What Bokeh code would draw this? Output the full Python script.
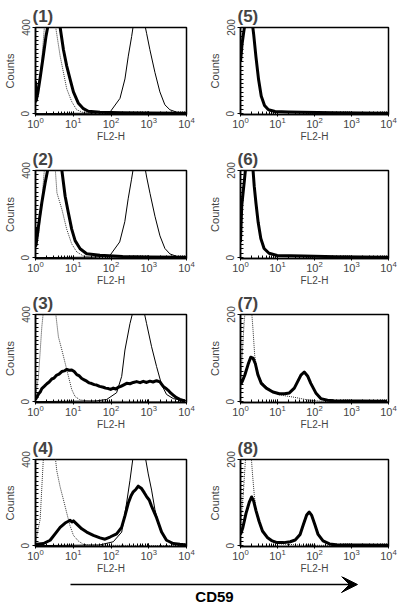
from bokeh.plotting import figure
from bokeh.layouts import column, row
from bokeh.models import Range1d, FixedTicker, Arrow, VeeHead
from bokeh.core.properties import value
from bokeh.embed import file_html
from bokeh.resources import INLINE

FONT = "Liberation Sans"

# ---------------- data (FL2-H intensity, counts) ----------------
X_LABEL = "FL2-H"
Y_LABEL = "Counts"
Y_TICKS_400 = [0, 400]
Y_TICKS_200 = [0, 200]
titles = ["(1)", "(2)", "(3)", "(4)", "(5)", "(6)", "(7)", "(8)"]
x_label_bottom = "CD59"

# panel 1
p1_iso_x = [1, 1.2, 1.47, 1.75, 2.4, 3.3, 4.5, 6.7, 9.1, 12.3, 18.6, 30, 100, 1000, 10000]
p1_iso_y = [40, 100, 250, 420, 470, 420, 267, 116, 56, 18, 5, 2, 1, 0, 0]
p1_pos_x = [1, 30, 94, 173, 234, 287, 352, 390, 500, 700, 793, 877, 1072, 1455, 1972, 2673, 3630, 5445, 10000]
p1_pos_y = [0, 2, 7, 71, 161, 267, 358, 410, 470, 460, 410, 373, 297, 192, 101, 41, 18, 7, 1]
p1_cd_x = [1, 1.04, 1.15, 1.35, 1.6, 1.9, 2.2, 3.5, 4.5, 5.5, 6.7, 8.2, 10.1, 13.7, 18.6, 25, 51, 200, 1000, 10000]
p1_cd_y = [150, 60, 95, 175, 265, 360, 420, 430, 400, 297, 222, 161, 101, 48, 23, 11, 6, 4, 3, 2]

# panel 2
p2_iso_x = [1, 1.25, 1.5, 1.75, 2.4, 3.3, 3.7, 5.0, 6.7, 9.1, 12.4, 18.5, 30, 10000]
p2_iso_y = [30, 120, 280, 420, 470, 420, 297, 222, 131, 63, 26, 8, 2, 0]
p2_pos_x = [1, 30, 92, 170, 232, 285, 350, 390, 500, 700, 800, 880, 1080, 1460, 1980, 2680, 3640, 5450, 10000]
p2_pos_y = [0, 2, 8, 72, 165, 270, 360, 410, 470, 460, 410, 370, 295, 190, 100, 42, 17, 6, 1]
p2_cd_x = [1, 1.03, 1.2, 1.47, 1.8, 2.2, 3.5, 5.0, 6.1, 7.4, 9.1, 11.2, 15.2, 22.7, 51, 200, 1000, 10000]
p2_cd_y = [140, 56, 146, 252, 343, 420, 430, 400, 282, 207, 131, 78, 41, 18, 11, 5, 3, 2]

# panel 3
p3_iso_x = [1, 1.2, 1.47, 1.63, 2.4, 3.3, 4.05, 5.0, 6.1, 7.45, 9.1, 11.2, 15.2, 27.8, 10000]
p3_iso_y = [20, 116, 343, 420, 470, 430, 297, 237, 177, 116, 56, 23, 8, 2, 0]
p3_pos_x = [1, 40, 77, 141, 192, 234, 318, 390, 500, 716, 877, 1189, 1611, 2185, 2960, 4460, 6640, 10000]
p3_pos_y = [0, 3, 10, 41, 116, 237, 358, 420, 470, 430, 358, 252, 161, 78, 33, 14, 8, 5]
p3_cd_x = [1, 1.1, 1.2, 1.33, 1.47, 1.7, 2.0, 2.3, 2.7, 3.1, 3.66, 4.2, 4.97, 5.8, 6.73, 7.8, 9.13, 10.6,
           12.4, 14.5, 16.8, 19.5, 22.7, 26.5, 30.8, 36, 41.8, 50, 62.7, 72, 85, 98, 115, 134, 156, 182,
           212, 260, 318, 390, 477, 590, 716, 880, 1072, 1300, 1611, 1972, 2415, 2800, 3275, 3800, 4446,
           5400, 6668, 9040]
p3_cd_y = [10, 22, 35, 44, 60, 70, 82, 90, 104, 108, 122, 126, 138, 141, 148, 144, 145, 138,
           124, 118, 106, 100, 94, 86, 83, 78, 76, 70, 66, 62, 60, 56, 62, 58, 66, 70,
           76, 84, 82, 88, 92, 87, 93, 88, 94, 90, 96, 91, 70, 62, 52, 40, 30,
           18, 10, 3]

# panel 4
p4_iso_x = [1, 1.33, 1.63, 2.4, 3.3, 3.66, 4.49, 5.5, 6.7, 8.2, 10.1, 13.7, 18.6, 30, 10000]
p4_iso_y = [15, 123, 420, 470, 420, 348, 273, 213, 153, 93, 48, 21, 6, 2, 0]
p4_pos_x = [1, 50, 115, 192, 259, 318, 390, 550, 793, 970, 1189, 1455, 1972, 2673, 4000, 10000]
p4_pos_y = [0, 3, 18, 63, 198, 303, 420, 470, 420, 333, 258, 168, 78, 33, 10, 3]
p4_cd_x = [1, 1.08, 1.63, 2.44, 3.31, 4.49, 6.08, 7.2, 8.25, 9.2, 10.1, 12.4, 16.8, 22.7, 34.1, 51.2, 69.4,
           94.1, 141, 191, 234, 287, 340, 389, 460, 527, 646, 760, 877, 1030, 1189, 1611, 2187, 2954,
           4446, 6668, 10000]
p4_cd_y = [5, 6, 10, 25, 55, 85, 105, 112, 118, 110, 115, 100, 78, 63, 48, 36, 30,
           40, 55, 85, 138, 198, 232, 250, 262, 276, 265, 246, 228, 212, 183, 130, 63, 25,
           10, 6, 3]

# panel 5
p5_cd_x = [1, 1.1, 1.23, 1.36, 2.05, 2.27, 2.62, 3.08, 3.63, 4.46, 5.7, 8.6, 19.5, 44, 340, 10000]
p5_cd_y = [120, 161, 191, 215, 215, 184, 131, 79, 41, 19, 9, 5, 4, 3, 2, 1]

# panel 6
p6_cd_x = [1, 1.08, 1.28, 1.41, 2.12, 2.35, 2.61, 3.0, 3.54, 4.34, 5.9, 9.8, 50, 380, 10000]
p6_cd_y = [36, 119, 179, 215, 215, 164, 126, 81, 44, 21, 10, 5, 4, 2, 1]

# panel 7
p7_iso_x = [1, 1.11, 1.25, 1.36, 1.97, 2.18, 2.42, 2.85, 3.65, 5.5, 10.2, 28.5, 65, 150, 10000]
p7_iso_y = [30, 106, 180, 215, 215, 165, 106, 68, 46, 31, 16, 10, 4, 1, 0]
p7_cd_x = [1, 1.11, 1.31, 1.6, 1.89, 2.18, 2.52, 2.97, 3.65, 4.97, 7.5, 11.3, 15.4, 20.9, 28.5, 35, 43,
           52.8, 65, 79.4, 108.6, 148, 224, 339, 9120]
p7_cd_y = [39, 46, 61, 85, 102, 100, 87, 61, 42, 31, 22, 18, 18, 20, 31, 46, 61,
           68, 59, 42, 20, 7, 3, 2, 1]

# panel 8
p8_iso_x = [1, 1.04, 1.22, 1.33, 1.41, 1.92, 2.12, 2.35, 2.61, 3.0, 3.54, 4.34, 5.9, 8.0, 12, 50, 10000]
p8_iso_y = [30, 60, 134, 187, 215, 215, 164, 119, 82, 60, 41, 26, 15, 7, 4, 1, 0]
p8_cd_x = [1, 1.15, 1.41, 1.73, 2.0, 2.26, 2.61, 3.19, 3.92, 5.3, 7.2, 9.8, 14.7, 22.1, 30.1, 40.8, 50.1,
           61.4, 72.1, 83.2, 102, 125, 170, 255, 384, 10000]
p8_cd_y = [26, 41, 75, 101, 113, 104, 82, 56, 34, 19, 11, 7, 7, 9, 13, 26, 49,
           71, 78, 71, 49, 26, 11, 4, 2, 1]

panels = [
    (titles[0], Y_TICKS_400, [(p1_iso_x, p1_iso_y, "iso"), (p1_pos_x, p1_pos_y, "pos"), (p1_cd_x, p1_cd_y, "cd")]),
    (titles[1], Y_TICKS_400, [(p2_iso_x, p2_iso_y, "iso"), (p2_pos_x, p2_pos_y, "pos"), (p2_cd_x, p2_cd_y, "cd")]),
    (titles[2], Y_TICKS_400, [(p3_iso_x, p3_iso_y, "iso"), (p3_pos_x, p3_pos_y, "pos"), (p3_cd_x, p3_cd_y, "cd")]),
    (titles[3], Y_TICKS_400, [(p4_iso_x, p4_iso_y, "iso"), (p4_pos_x, p4_pos_y, "pos"), (p4_cd_x, p4_cd_y, "cd")]),
    (titles[4], Y_TICKS_200, [(p5_cd_x, p5_cd_y, "cd")]),
    (titles[5], Y_TICKS_200, [(p6_cd_x, p6_cd_y, "cd")]),
    (titles[6], Y_TICKS_200, [(p7_iso_x, p7_iso_y, "iso"), (p7_cd_x, p7_cd_y, "cd")]),
    (titles[7], Y_TICKS_200, [(p8_iso_x, p8_iso_y, "iso"), (p8_cd_x, p8_cd_y, "cd")]),
]

ROW_TOP = [27, 26, 26, 27]
ROW_BOTTOM = [28, 29, 29, 28]


def make_panel(title, yticks, curves, left, r):
    ymax = yticks[-1]
    width = 205 if left else 196
    p = figure(width=width, height=144, x_axis_type="log",
               x_range=Range1d(1, 10000), y_range=Range1d(-ymax * 0.01, ymax),
               output_backend="svg", toolbar_location=None,
               min_border_left=35 if left else 33,
               min_border_right=19 if left else 13,
               min_border_top=ROW_TOP[r],
               min_border_bottom=ROW_BOTTOM[r],
               background_fill_color="white", border_fill_color="white")
    p.title.text = title
    p.title.text_font = FONT
    p.title.text_font_size = "17px"
    p.title.text_font_style = "bold"
    p.title.standoff = 4
    p.title.offset = -3
    p.xgrid.visible = False
    p.ygrid.visible = False
    p.outline_line_color = "black"
    p.outline_line_width = 1.5
    p.outline_line_alpha = 1

    xa = p.xaxis[0]
    xa.axis_label = X_LABEL
    xa.axis_label_text_font = FONT
    xa.axis_label_text_font_size = "10px"
    xa.axis_label_text_font_style = "normal"
    xa.axis_label_standoff = 0
    xa.major_label_text_font = FONT
    xa.major_label_text_font_size = "11px"
    xa.major_label_standoff = 0
    xa.major_tick_out = 2
    xa.major_tick_in = 2
    xa.minor_tick_in = 3
    xa.minor_tick_out = 0
    xa.axis_line_width = 1.5

    ya = p.yaxis[0]
    ya.ticker = FixedTicker(ticks=yticks, minor_ticks=list(range(0, ymax + 1, ymax // 20)))
    ya.axis_label = Y_LABEL
    ya.axis_label_text_font = FONT
    ya.axis_label_text_font_size = "11px"
    ya.axis_label_text_font_style = "normal"
    ya.axis_label_standoff = 3
    ya.major_label_text_font = FONT
    ya.major_label_text_font_size = "10px"
    ya.major_label_orientation = "vertical"
    ya.major_label_standoff = 3
    ya.major_tick_out = 3
    ya.major_tick_in = 0
    ya.minor_tick_in = 3
    ya.minor_tick_out = 0
    ya.axis_line_width = 1.5

    for xs, ys, kind in curves:
        if kind == "iso":
            p.line(xs, ys, line_color="#333333", line_width=1, line_dash="1 1")
    for xs, ys, kind in curves:
        if kind == "pos":
            p.line(xs, ys, line_color="black", line_width=1)
    for xs, ys, kind in curves:
        if kind == "cd":
            p.line(xs, ys, line_color="black", line_width=3, line_join="round")
    return p


figs = []
for i, (t, yt, cv) in enumerate(panels):
    figs.append(make_panel(t, yt, cv, i < 4, i % 4))

# bottom arrow + label (page-pixel coordinates, y downward)
pb = figure(width=401, height=29, x_range=Range1d(0, 401), y_range=Range1d(605, 576),
            output_backend="svg", toolbar_location=None,
            x_axis_location=None, y_axis_location=None,
            min_border=0, min_border_left=0, min_border_right=0,
            min_border_top=0, min_border_bottom=0)
pb.outline_line_color = None
pb.grid.visible = False
pb.add_layout(Arrow(x_start=70, y_start=584, x_end=357, y_end=584, line_width=1.5,
                    line_color="black",
                    end=VeeHead(size=16, fill_color="black", line_color="black")))
pb.text(x=[214], y=[604], text=[x_label_bottom], text_font=value(FONT), text_font_size="15px",
        text_font_style="bold", text_align="center", text_baseline="bottom", text_color="black")

layout = column(
    row(figs[0], figs[4]),
    row(figs[1], figs[5]),
    row(figs[2], figs[6]),
    row(figs[3], figs[7]),
    pb,
)

open("out.html", "w").write(file_html(layout, INLINE))
